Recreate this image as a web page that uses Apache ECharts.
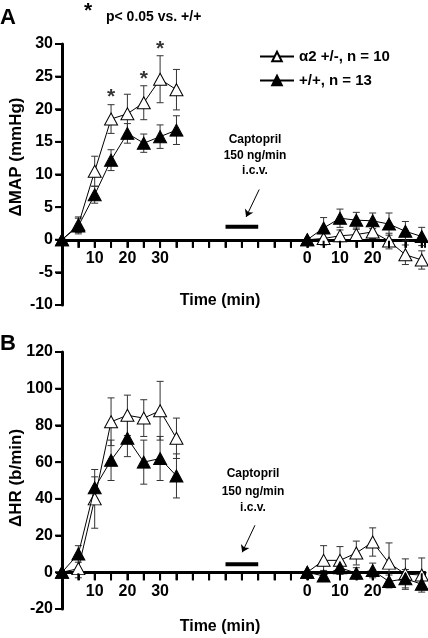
<!DOCTYPE html>
<html><head><meta charset="utf-8">
<script src="https://cdn.jsdelivr.net/npm/echarts@6/dist/echarts.min.js"></script>
<style>html,body{margin:0;padding:0;background:#fff}#c{width:428px;height:638px}</style>
</head><body><div id="c"></div>
<script>
// ---- data ----
const timesPre = [0, 5, 10, 15, 20, 25, 30, 35];
const timesPostRel = [0, 5, 10, 15, 20, 25, 30, 35];
const postOffset = 75;
const xTickValues = [10, 20, 30, 75, 85, 95];
const xTickLabels = ['10', '20', '30', '0', '10', '20'];

const seriesNames = ['\u03b12 +/-, n = 10', '+/+, n = 13'];

// Panel A: delta MAP (mmHg)
const mapHetPre = [0, 2.3, 10.5, 18.5, 19.3, 21.0, 24.6, 23.0];
const mapHetPreErr = [0, 1.2, 2.3, 2.2, 3.0, 2.6, 3.6, 3.1];
const mapWtPre = [0, 2.1, 6.9, 12.2, 16.3, 14.8, 15.8, 16.8];
const mapWtPreErr = [0, 1.2, 1.3, 1.6, 1.5, 1.4, 1.8, 2.2];
const mapHetPost = [0, 0.2, 0.6, 0.8, 1.2, -0.2, -2.3, -3.1];
const mapHetPostErr = [0, 1.0, 0.9, 0.8, 1.0, 1.2, 1.5, 1.4];
const mapWtPost = [0, 1.8, 3.3, 3.0, 2.9, 2.4, 1.3, 0.5];
const mapWtPostErr = [0, 1.6, 1.4, 1.2, 1.2, 1.7, 1.5, 1.4];
const sigTimesA = [15, 25, 30];

// Panel B: delta HR (b/min)
const hrHetPre = [0, 2, 40, 82, 85.5, 84, 88, 73];
const hrHetPreErr = [0, 5, 16, 13, 11, 10, 16, 11];
const hrWtPre = [0, 10, 46, 61, 73, 60, 62, 52.5];
const hrWtPreErr = [0, 4.5, 6, 11, 10, 12, 12, 12];
const hrHetPost = [0, 6.5, 6.5, 10.5, 16.5, 5, -1, -1.5];
const hrHetPostErr = [0, 8, 7.5, 6.5, 7.7, 11, 8.3, 9.3];
const hrWtPost = [0, -2, 2.5, -0.5, 1, -5, -3.5, -6.5];
const hrWtPostErr = [0, 3, 3.5, 3, 4, 3.5, 5, 3];

// Captopril infusion marker (time range in min, level in each panel)
const captoprilTimes = [50, 60];
const captoprilLevelA = 2.0;
const captoprilLevelB = 4.4;
const arrowA = [[60.3, 7.7], [56.3, 3.5]];
const arrowB = [[59.0, 25.6], [55.1, 10.9]];

// ---- chart ----
const FONT = "'Liberation Sans', Arial, Helvetica, sans-serif";
const timesPost = timesPostRel.map(t => t + postOffset);
const gridA = { left: 62, top: 44, width: 365, height: 261 };
const gridB = { left: 62, top: 352, width: 365, height: 257 };
const xRange = [0, 111, 5];
const yRangeA = [-10, 30, 5];
const yRangeB = [-20, 120, 20];

function steps(min, max, step) {
  const out = [];
  for (let v = Math.ceil(min / step) * step; v <= max + 1e-9; v += step) out.push(v);
  return out;
}

function lineSeries(name, xs, ys, gi, filled) {
  return {
    name: name, type: 'line', xAxisIndex: gi, yAxisIndex: gi,
    data: xs.map((x, i) => [x, ys[i]]),
    symbol: 'triangle', symbolSize: [13, 12],
    z: filled ? 5 : 4,
    lineStyle: { color: '#000', width: 1 },
    itemStyle: filled ? { color: '#000', borderColor: '#000', borderWidth: 1 }
                      : { color: '#fff', borderColor: '#000', borderWidth: 1 },
    emphasis: { disabled: true }, silent: true, animation: false
  };
}
function errSeries(xs, ys, es, gi) {
  return {
    type: 'custom', xAxisIndex: gi, yAxisIndex: gi, z: 3, silent: true, animation: false,
    data: xs.map((x, i) => [x, ys[i] - es[i], ys[i] + es[i]]),
    renderItem: function (params, api) {
      const x = api.value(0), lo = api.value(1), hi = api.value(2);
      if (hi - lo <= 0) return null;
      const p1 = api.coord([x, lo]), p2 = api.coord([x, hi]);
      const w = 3.5, st = { stroke: '#333', lineWidth: 1 };
      return { type: 'group', children: [
        { type: 'line', shape: { x1: p1[0], y1: p1[1], x2: p2[0], y2: p2[1] }, style: st },
        { type: 'line', shape: { x1: p1[0] - w, y1: p1[1], x2: p1[0] + w, y2: p1[1] }, style: st },
        { type: 'line', shape: { x1: p2[0] - w, y1: p2[1], x2: p2[0] + w, y2: p2[1] }, style: st }
      ]};
    }
  };
}
// tick marks drawn through the axes' own scales (x ticks hang below y = 0, y ticks left of x = 0)
function tickSeries(gi, yr) {
  const xt = steps(xRange[0], xRange[1], xRange[2]).map(t => [t, 0, 0]);
  const yt = steps(yr[0], yr[1], yr[2]).map(v => [0, v, 1]);
  return {
    type: 'custom', xAxisIndex: gi, yAxisIndex: gi, z: 6, silent: true, animation: false,
    data: xt.concat(yt),
    renderItem: function (params, api) {
      const p = api.coord([api.value(0), api.value(1)]);
      const st = { stroke: '#000', lineWidth: 2 };
      const isY = api.value(2) > 0.5;
      const shape = isY
        ? { x1: p[0] - 1, y1: p[1], x2: p[0] - 7, y2: p[1] }
        : { x1: p[0], y1: p[1] + 1, x2: p[0], y2: p[1] + 8 };
      return { type: 'group', children: [{ type: 'line', shape: shape, style: st }] };
    }
  };
}
function captoprilSeries(level, arrow, gi) {
  return {
    type: 'line', xAxisIndex: gi, yAxisIndex: gi, silent: true, animation: false,
    data: captoprilTimes.map(t => [t, level]), symbol: 'none',
    lineStyle: { color: '#000', width: 4 },
    markLine: {
      silent: true, animation: false, symbol: ['none', 'arrow'], symbolSize: 7,
      label: { show: false },
      lineStyle: { color: '#000', width: 1, type: 'solid' },
      data: [[{ coord: arrow[0] }, { coord: arrow[1] }]]
    }
  };
}
const sigTops = sigTimesA.map(t => {
  const i = timesPre.indexOf(t);
  return [t, mapHetPre[i] + mapHetPreErr[i]];
});

// x axis sits on y = 0: offset it up from the grid bottom by the scale's own proportion
function xAxisCfg(gi, grid, yr) {
  const zeroOffset = -grid.height * (0 - yr[0]) / (yr[1] - yr[0]);
  return {
    type: 'value', gridIndex: gi, min: xRange[0], max: xRange[1], interval: xRange[2],
    offset: zeroOffset,
    axisLine: { show: true, onZero: false, lineStyle: { color: '#000', width: 3 } },
    axisTick: { show: true, length: 8, lineStyle: { color: '#000', width: 2 } },
    axisLabel: {
      margin: 11, color: '#000', fontFamily: FONT, fontWeight: 'bold', fontSize: 16,
      formatter: v => { const k = xTickValues.indexOf(v); return k >= 0 ? xTickLabels[k] : ''; }
    },
    splitLine: { show: false }
  };
}
function yAxisCfg(gi, yr) {
  return {
    type: 'value', gridIndex: gi, min: yr[0], max: yr[1], interval: yr[2],
    axisLine: { show: true, onZero: false, lineStyle: { color: '#000', width: 3 } },
    axisTick: { show: true, length: 6, lineStyle: { color: '#000', width: 2 } },
    axisLabel: { margin: 9, color: '#000', fontFamily: FONT, fontWeight: 'bold', fontSize: 16, padding: [6, 0, 0, 0] },
    splitLine: { show: false }
  };
}
function txt(text, x, y, size, opts) {
  return Object.assign({
    type: 'text', x: x, y: y, silent: true,
    style: { text: text, fill: '#000', font: 'bold ' + size + 'px ' + FONT, align: 'center', verticalAlign: 'middle' }
  }, opts || {});
}

const chart = echarts.init(document.getElementById('c'), null, { renderer: 'canvas' });
chart.setOption({
  backgroundColor: '#fff',
  animation: false,
  grid: [gridA, gridB],
  xAxis: [xAxisCfg(0, gridA, yRangeA), xAxisCfg(1, gridB, yRangeB)],
  yAxis: [yAxisCfg(0, yRangeA), yAxisCfg(1, yRangeB)],
  legend: {
    data: seriesNames, orient: 'vertical', left: 254, top: 44, itemGap: 9,
    itemWidth: 34, itemHeight: 12, selectedMode: false,
    textStyle: { color: '#000', fontFamily: FONT, fontWeight: 'bold', fontSize: 15 }
  },
  series: [
    tickSeries(0, yRangeA),
    errSeries(timesPre, mapHetPre, mapHetPreErr, 0),
    errSeries(timesPre, mapWtPre, mapWtPreErr, 0),
    errSeries(timesPost, mapHetPost, mapHetPostErr, 0),
    errSeries(timesPost, mapWtPost, mapWtPostErr, 0),
    lineSeries(seriesNames[0], timesPre, mapHetPre, 0, false),
    lineSeries(seriesNames[0], timesPost, mapHetPost, 0, false),
    lineSeries(seriesNames[1], timesPre, mapWtPre, 0, true),
    lineSeries(seriesNames[1], timesPost, mapWtPost, 0, true),
    captoprilSeries(captoprilLevelA, arrowA, 0),
    {
      type: 'scatter', xAxisIndex: 0, yAxisIndex: 0, silent: true, animation: false,
      data: sigTops, symbolSize: 1, itemStyle: { color: 'rgba(0,0,0,0)' },
      label: { show: true, position: 'inside', formatter: '*', offset: [0, -7],
        color: '#000', fontFamily: FONT, fontWeight: 'bold', fontSize: 21 }
    },
    tickSeries(1, yRangeB),
    errSeries(timesPre, hrHetPre, hrHetPreErr, 1),
    errSeries(timesPre, hrWtPre, hrWtPreErr, 1),
    errSeries(timesPost, hrHetPost, hrHetPostErr, 1),
    errSeries(timesPost, hrWtPost, hrWtPostErr, 1),
    lineSeries(seriesNames[0], timesPre, hrHetPre, 1, false),
    lineSeries(seriesNames[0], timesPost, hrHetPost, 1, false),
    lineSeries(seriesNames[1], timesPre, hrWtPre, 1, true),
    lineSeries(seriesNames[1], timesPost, hrWtPost, 1, true),
    captoprilSeries(captoprilLevelB, arrowB, 1)
  ],
  graphic: [
    txt('A', 8, 18, 22),
    txt('B', 8, 344, 22),
    txt('*', 88, 11, 21),
    txt('p< 0.05 vs. +/+', 106, 17, 14, { style: { text: 'p< 0.05 vs. +/+', fill: '#000', font: 'bold 14px ' + FONT, align: 'left', verticalAlign: 'middle' } }),
    txt('\u0394MAP (mmHg)', 16, 157, 17, { rotation: Math.PI / 2 }),
    txt('\u0394HR (b/min)', 16, 478, 17, { rotation: Math.PI / 2 }),
    txt('Time (min)', 220, 301, 16),
    txt('Time (min)', 220, 627, 16),
    txt('Captopril', 255, 140, 12),
    txt('150 ng/min', 255, 156, 12),
    txt('i.c.v.', 255, 171, 12),
    txt('Captopril', 253, 474, 12),
    txt('150 ng/min', 253, 492, 12),
    txt('i.c.v.', 253, 508, 12)
  ]
});
</script></body></html>
